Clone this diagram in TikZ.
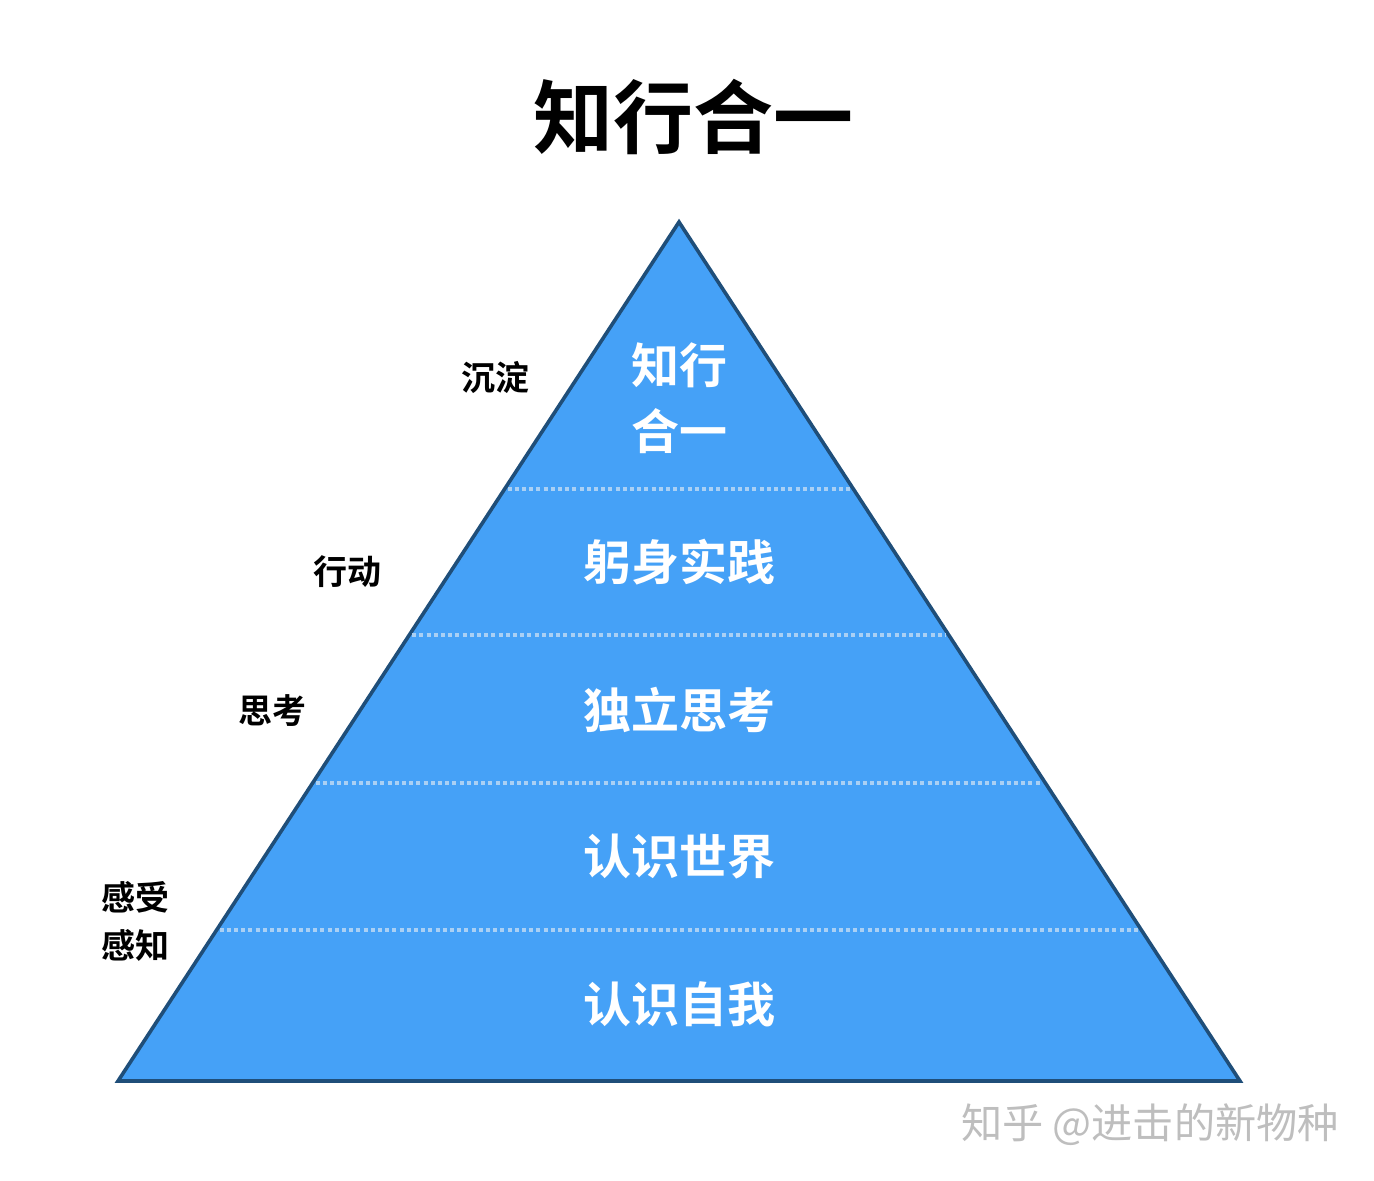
\documentclass[tikz,border=0pt]{standalone}
\usepackage{fontspec}
\newfontfamily\cjk{Noto Sans CJK SC}
\newfontfamily\cjkb{Noto Sans CJK SC Bold}
\usetikzlibrary{calc}
\definecolor{pyrfill}{RGB}{69,161,247}
\definecolor{pyredge}{RGB}{31,78,121}
\definecolor{dotline}{RGB}{170,208,244}
\definecolor{wmgray}{RGB}{190,190,190}
\tikzset{
  layertext/.style={text=white,font=\cjkb\fontsize{24}{28}\selectfont,inner sep=0.75pt},
  sidetext/.style={text=black,font=\cjkb\fontsize{17}{21}\selectfont,inner sep=0.75pt},
  divider/.style={dotline,line width=1.6pt,dash pattern={on 2pt off 1.6pt}}
}
\begin{document}
\begin{tikzpicture}[x=0.5pt,y=0.5pt,yscale=-1,xscale=1]
\useasboundingbox (0,0) rectangle (1374,1180);

%Triangle
\coordinate (apex) at (679,222);
\coordinate (bl) at (118,1081);
\coordinate (br) at (1240,1081);
\draw [pyredge,fill=pyrfill,line width=1.8pt,line join=miter] (apex) -- (bl) -- (br) -- cycle;

%Dotted Lines
\foreach \t [count=\i] in {0.3108,0.4808,0.6531,0.8242}{
  \coordinate (l\i) at ($(apex)!\t!(bl)$);
  \coordinate (r\i) at ($(apex)!\t!(br)$);
  \draw [divider] ($(l\i)+(3,0)$) -- ($(r\i)-(3,0)$);
}

% Text Node
\node (title) at (693,117) {\cjkb\fontsize{40}{46}\selectfont 知行合一};
% Text Node
\node [layertext,align=center] (top) at (679,398) {知行\\[5pt]合一};
\node [layertext] (act) at (679,562) {躬身实践};
\node [layertext] (think) at (679,710) {独立思考};
\node [layertext] (world) at (679,857) {认识世界};
\node [layertext] (self) at (679,1004) {认识自我};
% Text Node
\node [sidetext] (settle) at (495,377) {沉淀};
\node [sidetext] (action) at (347,572) {行动};
\node [sidetext] (thought) at (272,711) {思考};
\node [sidetext,align=center] (sense) at (135,921) {感受\\[3pt]感知};
% Text Node
\node [text=wmgray,font=\cjk\fontsize{20.6}{24}\selectfont] (mark) at (1150,1125) {知乎 @进击的新物种};

\end{tikzpicture}
\end{document}
